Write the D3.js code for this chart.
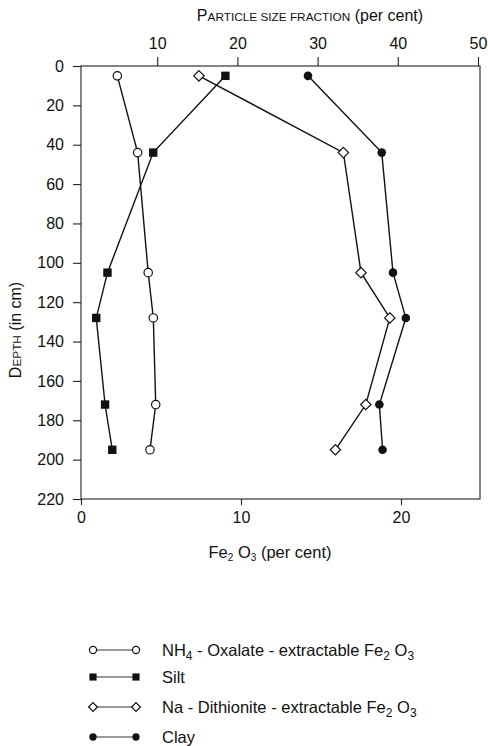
<!DOCTYPE html>
<html><head><meta charset="utf-8">
<script src="https://cdn.jsdelivr.net/npm/d3@7"></script>
<style>
body{margin:0;background:#fff;}
svg text{font-family:"Liberation Sans",Arial,Helvetica,sans-serif;fill:#111;}
</style></head>
<body><svg id="c" width="488" height="746"></svg>
<script>
// Data
const depths = [5, 44, 105, 128, 172, 195];
const oxalateFe = [2.27, 3.54, 4.2, 4.52, 4.67, 4.31];
const dithioniteFe = [7.37, 16.4, 17.5, 19.3, 17.8, 15.9];
const silt = [18.5, 9.5, 3.8, 2.4, 3.5, 4.4];
const clay = [28.8, 38.0, 39.4, 41.0, 37.7, 38.1];
const depthTicks = [0,20,40,60,80,100,120,140,160,180,200,220];
const feTicks = [0, 10, 20];
const particleTicks = [10, 20, 30, 40, 50];
const legendLabels = ["NH4 - Oxalate - extractable Fe2 O3", "Silt", "Na - Dithionite - extractable Fe2 O3", "Clay"];

const svg = d3.select("#c");
const L = 81, R = 480, T = 66, B = 499;
const y = d3.scaleLinear().domain([0, 220]).range([T, B]);
const xFe = d3.scaleLinear().domain([0, 25]).range([L, 481]);
const xP = d3.scaleLinear().domain([0, 50]).range([77, 478]);

const series = [
  {vals: oxalateFe, x: xFe, marker: "ocircle"},
  {vals: silt, x: xP, marker: "square"},
  {vals: dithioniteFe, x: xFe, marker: "diamond"},
  {vals: clay, x: xP, marker: "fcircle"}
];

// box
svg.append("rect").attr("x", L).attr("y", T).attr("width", R - L).attr("height", B - T)
  .attr("fill", "none").attr("stroke", "#222").attr("stroke-width", 1.1);

// left axis
const ga = svg.append("g").attr("transform", `translate(${L},0)`)
  .call(d3.axisLeft(y).tickValues(depthTicks).tickSize(8).tickPadding(9));
// bottom axis
const gb = svg.append("g").attr("transform", `translate(0,${B})`)
  .call(d3.axisBottom(xFe).tickValues(feTicks).tickSize(6).tickPadding(7));
// top axis
const gt = svg.append("g").attr("transform", `translate(0,${T})`)
  .call(d3.axisTop(xP).tickValues(particleTicks).tickSize(9).tickPadding(8));
[ga, gb, gt].forEach(g => {
  g.select(".domain").remove();
  g.selectAll("line").attr("stroke", "#222").attr("stroke-width", 1.1);
  g.selectAll("text").attr("font-size", 16).attr("fill", "#111")
    .style("font-family", '"Liberation Sans", Arial, sans-serif');
});

function drawMarker(g, type, cx, cy, s) {
  s = s || 1;
  if (type === "ocircle") g.append("circle").attr("cx", cx).attr("cy", cy).attr("r", 4.2 * s).attr("fill", "#fff").attr("stroke", "#111").attr("stroke-width", 1.2);
  else if (type === "fcircle") g.append("circle").attr("cx", cx).attr("cy", cy).attr("r", 4.3 * s).attr("fill", "#111");
  else if (type === "square") g.append("rect").attr("x", cx - 4.2 * s).attr("y", cy - 4.2 * s).attr("width", 8.4 * s).attr("height", 8.4 * s).attr("fill", "#111");
  else if (type === "diamond") { const d = 5.2 * s; g.append("path").attr("d", `M${cx},${cy-d}L${cx+d},${cy}L${cx},${cy+d}L${cx-d},${cy}Z`).attr("fill", "#fff").attr("stroke", "#111").attr("stroke-width", 1.2); }
}

const plot = svg.append("g");
series.forEach(s => {
  const pts = s.vals.map((v, i) => [s.x(v), y(depths[i])]);
  plot.append("path").attr("d", d3.line()(pts)).attr("fill", "none").attr("stroke", "#111").attr("stroke-width", 1.4);
});
series.forEach(s => {
  s.vals.forEach((v, i) => drawMarker(plot, s.marker, s.x(v), y(depths[i])));
});

// titles
const tt = svg.append("text").attr("x", 310).attr("y", 21).attr("text-anchor", "middle").attr("font-size", 16);
tt.append("tspan").text("P");
tt.append("tspan").attr("font-size", 11.8).text("ARTICLE SIZE FRACTION");
tt.append("tspan").text(" (per cent)");

const yl = svg.append("text").attr("transform", "translate(21,330) rotate(-90)").attr("text-anchor", "middle").attr("font-size", 16);
yl.append("tspan").text("D");
yl.append("tspan").attr("font-size", 11.8).text("EPTH");
yl.append("tspan").text(" (in cm)");

const xl = svg.append("text").attr("x", 270).attr("y", 558).attr("text-anchor", "middle").attr("font-size", 16.5);
xl.append("tspan").text("Fe");
xl.append("tspan").attr("font-size", 10).attr("dy", 3).text("2");
xl.append("tspan").attr("dy", -3).text(" O");
xl.append("tspan").attr("font-size", 10).attr("dy", 3).text("3");
xl.append("tspan").attr("dy", -3).text(" (per cent)");

// legend
const legY = [650, 677, 707, 737];
const markers = ["ocircle", "square", "diamond", "fcircle"];
legendLabels.forEach((lab, i) => {
  const g = svg.append("g");
  g.append("line").attr("x1", 93).attr("x2", 136).attr("y1", legY[i]).attr("y2", legY[i]).attr("stroke", "#333").attr("stroke-width", 1);
  drawMarker(g, markers[i], 93, legY[i], 0.85);
  drawMarker(g, markers[i], 136, legY[i], 0.85);
  const t = g.append("text").attr("x", 162).attr("y", legY[i] + 6).attr("font-size", 16.5);
  const parts = lab.split(/(\d)/);
  let sub = false;
  parts.forEach(p => {
    if (p === "") return;
    if (/^\d$/.test(p)) {
      t.append("tspan").attr("font-size", 12).attr("dy", 4).text(p);
      sub = true;
    } else {
      t.append("tspan").attr("dy", sub ? -4 : 0).text(p);
      sub = false;
    }
  });
});
</script></body></html>
